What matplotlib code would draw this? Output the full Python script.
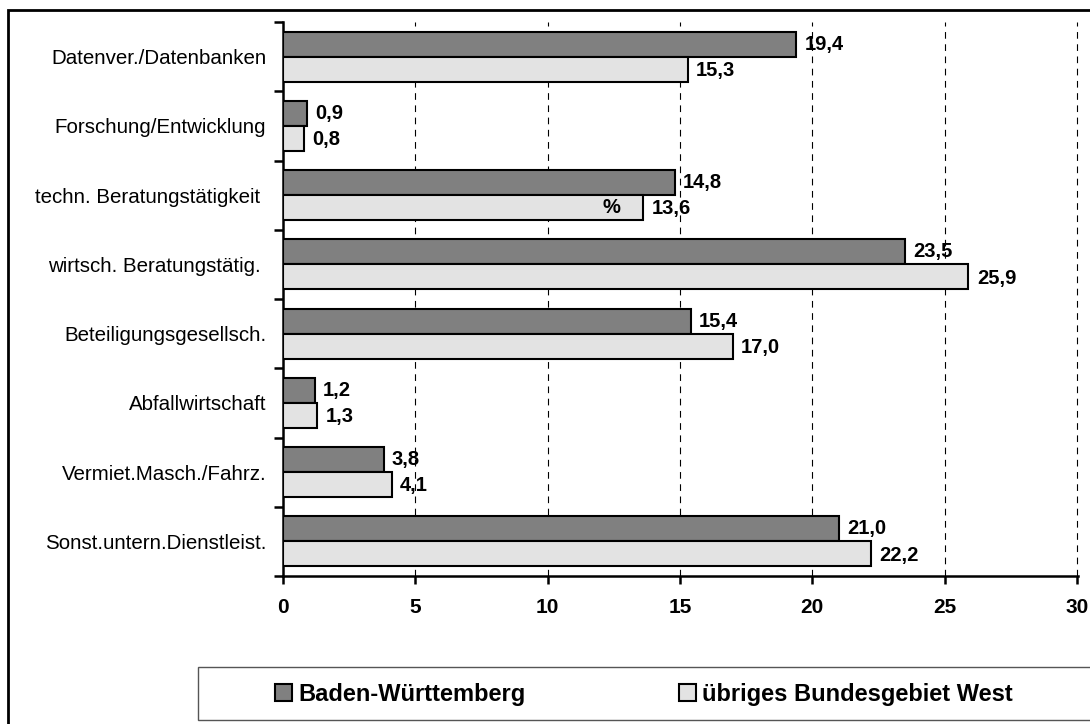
"""Horizontal bar chart: Baden-Württemberg vs. übriges Bundesgebiet West."""

import matplotlib

matplotlib.use("Agg")
import matplotlib.pyplot as plt
import numpy as np
from matplotlib.patches import Patch, Rectangle

plt.rcParams["font.family"] = ["Liberation Sans", "DejaVu Sans"]

CATEGORIES = [
    "Datenver./Datenbanken",
    "Forschung/Entwicklung",
    "techn. Beratungstätigkeit ",
    "wirtsch. Beratungstätig. ",
    "Beteiligungsgesellsch.",
    "Abfallwirtschaft",
    "Vermiet.Masch./Fahrz.",
    "Sonst.untern.Dienstleist.",
]
BW_VALUES = [19.4, 0.9, 14.8, 23.5, 15.4, 1.2, 3.8, 21.0]
WEST_VALUES = [15.3, 0.8, 13.6, 25.9, 17.0, 1.3, 4.1, 22.2]
SERIES_NAMES = ["Baden-Württemberg", "übriges Bundesgebiet West"]
X_TICKS = [0, 5, 10, 15, 20, 25, 30]

DARK = "#808080"
LIGHT = "#E3E3E3"

W, H = 1090, 724
fig = plt.figure(figsize=(W / 100, H / 100), dpi=100)
ax = fig.add_axes([283 / W, 1 - 576 / H, (1078 - 283) / W, (576 - 22) / H])

y = np.arange(len(CATEGORIES))
bar_h = 0.36
ax.barh(y - bar_h / 2, BW_VALUES, height=bar_h, color=DARK, edgecolor="black", lw=1.5, zorder=3)
ax.barh(y + bar_h / 2, WEST_VALUES, height=bar_h, color=LIGHT, edgecolor="black", lw=1.5, zorder=3)


def _fmt(v: float) -> str:
    return f"{v:.1f}".replace(".", ",")


for yi, v in zip(y, BW_VALUES):
    ax.annotate(_fmt(v), (v, yi - bar_h / 2), xytext=(6, 0), textcoords="offset points",
                ha="left", va="center", fontsize=14.5, fontweight="bold", zorder=4)
for yi, v in zip(y, WEST_VALUES):
    ax.annotate(_fmt(v), (v, yi + bar_h / 2), xytext=(6, -1), textcoords="offset points",
                ha="left", va="center", fontsize=14.5, fontweight="bold", zorder=4)

# stray percent sign sitting inside the techn. bar
ax.text(12.4, 2 + bar_h / 2, "%", ha="center", va="center", fontsize=14.5, fontweight="bold", zorder=4)

ax.set_xlim(0, 30.04)
ax.set_ylim(len(CATEGORIES) - 0.5, -0.5)
ax.set_xticks(X_TICKS)
ax.set_xticklabels([str(t) for t in X_TICKS], fontsize=15, fontweight="bold")
ax.set_yticks(y)
ax.set_yticklabels(CATEGORIES, fontsize=14.8)
ax.set_yticks(np.arange(len(CATEGORIES) + 1) - 0.5, minor=True)
ax.tick_params(axis="y", which="major", length=0, pad=12)
ax.tick_params(axis="y", which="minor", length=6.5, width=1.8, direction="out")
ax.tick_params(axis="x", length=6, width=1.8, direction="out", pad=10)

for x in X_TICKS[1:]:
    ax.axvline(x, color="black", lw=0.8, ls=(0, (6, 5)), zorder=1, clip_on=False)

for side in ("top", "right"):
    ax.spines[side].set_visible(False)
for side in ("left", "bottom"):
    ax.spines[side].set_linewidth(1.8)

# legend box running off the right edge
fig.patches.append(Rectangle((198 / W, 1 - 720 / H), 1.0, 53 / H, transform=fig.transFigure,
                             facecolor="white", edgecolor="#555555", lw=1.0, zorder=0))
handles = [Patch(facecolor=DARK, edgecolor="black", lw=1.5), Patch(facecolor=LIGHT, edgecolor="black", lw=1.5)]
fig.legend(handles, SERIES_NAMES, loc="center left", bbox_to_anchor=(275 / W, 1 - 694 / H), ncol=2,
           frameon=False, prop={"size": 17, "weight": "bold"}, handlelength=0.72, handleheight=0.72,
           handletextpad=0.25, columnspacing=6.5, borderpad=0, borderaxespad=0)

# outer frame (right and bottom edges fall outside the canvas)
fig.patches.append(Rectangle((8 / W, -0.1), 1.2, 1.1 - 10 / H, transform=fig.transFigure,
                             fill=False, edgecolor="black", lw=2.0, zorder=0))

fig.savefig("out.png", dpi=100)
plt.close(fig)
